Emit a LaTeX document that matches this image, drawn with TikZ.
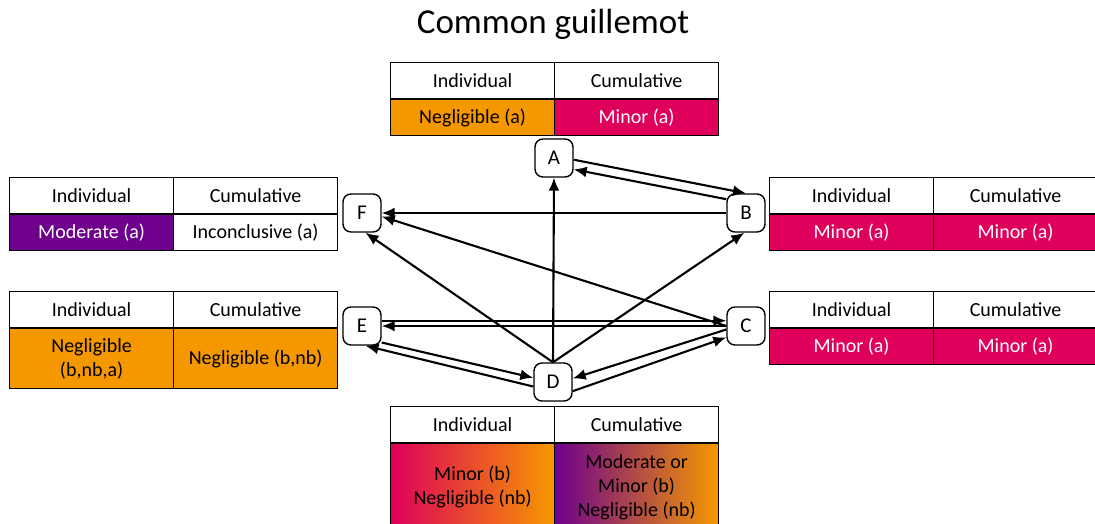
\documentclass[tikz,border=0pt]{standalone}
\usepackage{fontspec}
\setmainfont{Carlito}
\usetikzlibrary{arrows.meta}
\definecolor{orng}{RGB}{245,152,0}
\definecolor{mgnt}{RGB}{222,0,90}
\definecolor{prpl}{RGB}{110,0,140}

\begin{document}
\begin{tikzpicture}[x=1pt,y=-1pt,
    cell/.style={draw,line width=1.2pt,anchor=north west,minimum width=164pt,
        minimum height=36pt,inner sep=0pt,align=center,
        font=\fontsize{20}{24}\selectfont},
    letter/.style={draw,rounded corners=8pt,line width=1.4pt,minimum size=38pt,
        inner sep=0pt,fill=white,font=\fontsize{21}{24}\selectfont},
    arr/.style={line width=2.1pt,-{Latex[length=13pt,width=11pt]}}]

        \useasboundingbox (0,0) rectangle (1095,524);

        \node[font=\fontsize{35}{42}\selectfont] (title) at (553,24) {Common guillemot};

        \foreach \n/\x/\y in {A/390/62, F/9/177, B/769/177, E/9/291, C/769/291, D/390/406} {
        \node[cell] (\n-hi) at (\x,\y) {Individual};
        \node[cell] (\n-hc) at (\x+164,\y) {Cumulative};
        }

        \node[cell,fill=orng] (A-vi) at (A-hi.south west) {Negligible (a)};
        \node[cell,fill=mgnt,text=white] (A-vc) at (A-hc.south west) {Minor (a)};
        \node[cell,fill=prpl,text=white] (F-vi) at (F-hi.south west) {Moderate (a)};
        \node[cell] (F-vc) at (F-hc.south west) {Inconclusive (a)};
        \node[cell,fill=mgnt,text=white] (B-vi) at (B-hi.south west) {Minor (a)};
        \node[cell,fill=mgnt,text=white] (B-vc) at (B-hc.south west) {Minor (a)};
        \node[cell,fill=orng,minimum height=60pt] (E-vi) at (E-hi.south west) {Negligible\\(b,nb,a)};
        \node[cell,fill=orng,minimum height=60pt] (E-vc) at (E-hc.south west) {Negligible (b,nb)};
        \node[cell,fill=mgnt,text=white] (C-vi) at (C-hi.south west) {Minor (a)};
        \node[cell,fill=mgnt,text=white] (C-vc) at (C-hc.south west) {Minor (a)};
        \node[cell,left color=mgnt,right color=orng,minimum height=86pt]
            (D-vi) at (D-hi.south west) {Minor (b)\\Negligible (nb)};
        \node[cell,left color=prpl,middle color=mgnt,right color=orng,minimum height=86pt]
            (D-vc) at (D-hc.south west) {Moderate or\\Minor (b)\\Negligible (nb)};

        \foreach \n/\x/\y in {A/554/158, B/746/213, C/746/326, D/553/382, E/362/326, F/362/213}
        \node[letter] (\n) at (\x,\y) {\n};

        \draw[arr] (A.-5) -- (B.north);
        \draw[arr] (B.145) -- (A.-30);
        \draw[arr] (B.west) -- (F.east);
        \draw[arr] (D.north) -- (A.south);
        \draw[arr] (D.north) -- (F.-80);
        \draw[arr] (D.north) -- (B.-95);
        \draw[arr] (C.west) -- (F.-10);
        \draw[arr] (E.15) -- (C.165);
        \draw[arr] (C.west) -- (E.east);
        \draw[arr] (E.-40) -- (D.168);
        \draw[arr] (D.193) -- (E.-80);
        \draw[arr] (C.-170) -- (D.10);
        \draw[arr] (D.-25) -- (C.-150);
    \end{tikzpicture}
\end{document}
